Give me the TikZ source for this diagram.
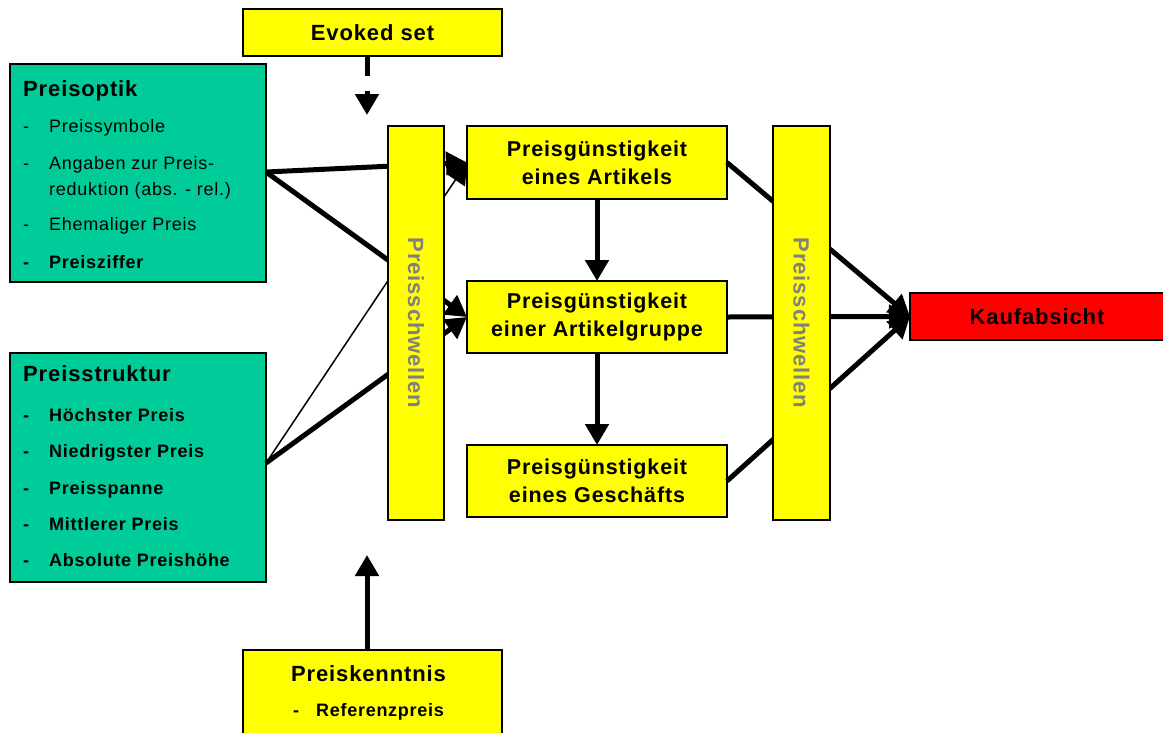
\documentclass[tikz,border=0pt]{standalone}
\usepackage{fontspec}
\setmainfont{Liberation Sans}[LetterSpace=4]
\usetikzlibrary{arrows.meta}
\definecolor{boxgreen}{RGB}{0,204,153}
\definecolor{boxyellow}{RGB}{255,255,0}
\definecolor{boxred}{RGB}{255,0,0}
\definecolor{bargray}{RGB}{128,128,128}
\tikzset{
  frame/.style={draw=black,line width=2pt,inner sep=0pt,outer sep=0pt},
  ybox/.style={frame,fill=boxyellow,align=center,font=\fontsize{21.5}{28}\selectfont\bfseries},
  gbox/.style={frame,fill=boxgreen},
  rbox/.style={frame,fill=boxred,font=\fontsize{22}{26}\selectfont\bfseries},
  bar/.style={frame,fill=boxyellow,minimum width=56pt,minimum height=394pt},
  bartext/.style={rotate=-90,text=bargray,font=\fontsize{22}{26}\selectfont\bfseries,inner sep=0pt},
  ttl/.style={anchor=base west,inner sep=0pt,font=\fontsize{22}{26}\selectfont\bfseries},
  itm/.style={anchor=base west,inner sep=0pt,font=\fontsize{18}{22}\selectfont},
  itmb/.style={itm,font=\fontsize{18}{22}\selectfont\bfseries},
  thick conn/.style={line width=5pt},
  thin conn/.style={line width=1.5pt},
  tip/.style={-{Triangle[length=21pt,width=23pt]}},
}
\begin{document}
\begin{tikzpicture}[x=1pt,y=-1pt]
\useasboundingbox (0,0) rectangle (1163,732);

% top and bottom boxes
\node[ybox,minimum width=259pt,minimum height=47pt,font=\fontsize{22}{26}\selectfont\bfseries] (ev) at (372.5,32.5) {Evoked set};
\node[ybox,minimum width=259pt,minimum height=95pt] (pk) at (372.5,697.5) {};
\node[ttl,anchor=base] (pkt) at (368.5,681.7) {Preiskenntnis};
\node[itmb] (pkd) at (293,716.7) {-};
\node[itmb] (pki) at (316,716.7) {Referenzpreis};

% green boxes
\node[gbox,minimum width=256pt,minimum height=218pt] (po) at (138,173) {};
\node[ttl] (pot) at (23,96) {Preisoptik};
\node[itm] (pod1) at (23,132.7) {-};
\node[itm] (poi1) at (49,132.7) {Preissymbole};
\node[itm] (pod2) at (23,169) {-};
\node[itm] (poi2) at (49,169) {Angaben zur Preis-};
\node[itm] (poi2b) at (49,195) {reduktion (abs. - rel.)};
\node[itm] (pod3) at (23,230.7) {-};
\node[itm] (poi3) at (49,230.7) {Ehemaliger Preis};
\node[itmb] (pod4) at (23,268) {-};
\node[itmb] (poi4) at (49,268) {Preisziffer};

\node[gbox,minimum width=256pt,minimum height=229pt] (ps) at (138,467.5) {};
\node[ttl] (pst) at (23,381.7) {Preisstruktur};
\node[itmb] (psd1) at (23,421) {-};
\node[itmb] (psi1) at (49,421) {Höchster Preis};
\node[itmb] (psd2) at (23,457.7) {-};
\node[itmb] (psi2) at (49,457.7) {Niedrigster Preis};
\node[itmb] (psd3) at (23,494) {-};
\node[itmb] (psi3) at (49,494) {Preisspanne};
\node[itmb] (psd4) at (23,530.7) {-};
\node[itmb] (psi4) at (49,530.7) {Mittlerer Preis};
\node[itmb] (psd5) at (23,566.7) {-};
\node[itmb] (psi5) at (49,566.7) {Absolute Preishöhe};

% middle boxes
\node[ybox,minimum width=260pt,minimum height=73pt] (art) at (597,162.5) {Preisgünstigkeit\\eines Artikels};
\node[ybox,minimum width=260pt,minimum height=72pt] (grp) at (597,317) {Preisgünstigkeit\\einer Artikelgruppe};
\node[ybox,minimum width=260pt,minimum height=72pt] (ges) at (597,481) {Preisgünstigkeit\\eines Geschäfts};

\node[rbox,minimum width=254pt,minimum height=47pt] (kauf) at (1037,316.5) {Kaufabsicht};

% connectors (behind the threshold bars)
\coordinate (poout) at (266,172);
\coordinate (psout) at (266,463);
\draw[thick conn,tip] (poout) -- (art.west);
\draw[thick conn,tip] (poout) -- (grp.west);
\draw[thin conn,tip] (psout) -- (art.west);
\draw[thick conn,tip] (psout) -- (grp.west);

\draw[thick conn,tip] (art.east) -- (kauf.west);
\draw[thick conn,tip] (grp.east) -- (kauf.west);
\draw[thick conn,tip] (ges.east) -- (kauf.west);

\draw[thick conn,tip] (art.south) -- (grp.north);
\draw[thick conn,tip] (grp.south) -- (ges.north);

\coordinate (evtip) at (367,115);
\draw[thick conn,tip,dash pattern=on 20pt off 15pt] (ev.south -| evtip) -- (evtip);
\coordinate (pktip) at (367,555);
\draw[thick conn,tip] (pk.north -| pktip) -- (pktip);

% threshold bars
\node[bar] (lb) at (416,323) {};
\node[bartext] (lbt) at (lb.center) {Preisschwellen};
\node[bar,minimum width=57pt] (rb) at (801.5,323) {};
\node[bartext] (rbt) at (rb.center) {Preisschwellen};
\end{tikzpicture}
\end{document}
